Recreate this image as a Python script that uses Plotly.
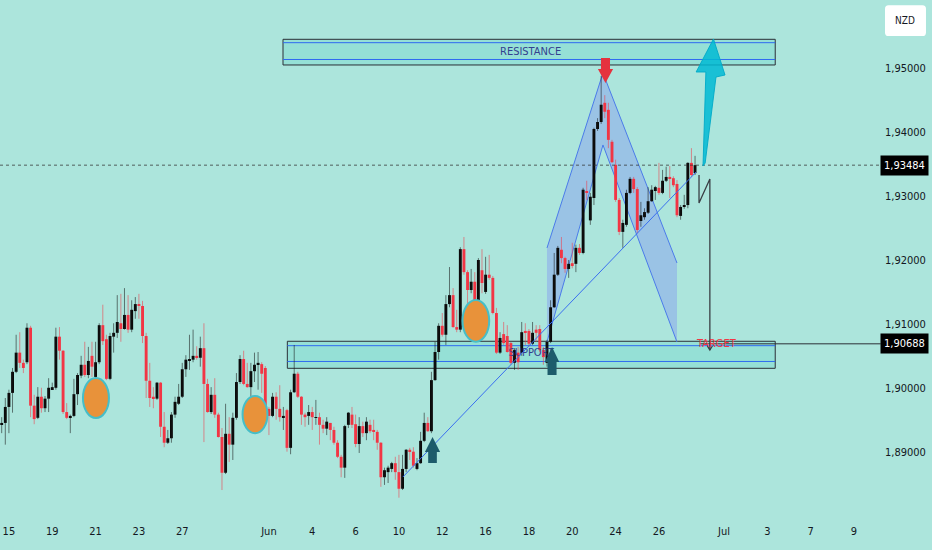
import plotly.graph_objects as go

# ---------------- DATA (NZD pair, 4H candles) ----------------
opens = [
    1.8942, 1.8945, 1.8970, 1.8992, 1.9025, 1.9055, 1.9039, 1.9040, 1.9094, 1.8972,
    1.8953, 1.8986, 1.8968, 1.8983, 1.8998, 1.9000, 1.9080, 1.9058, 1.8962, 1.8953,
    1.8956, 1.8990, 1.9019, 1.9036, 1.9020, 1.9050, 1.9017, 1.9040, 1.9098, 1.9076,
    1.9014, 1.9080, 1.9086, 1.9101, 1.9092, 1.9114, 1.9091, 1.9120, 1.9131, 1.9128,
    1.9081, 1.9011, 1.8986, 1.8983, 1.9008, 1.8939, 1.8914, 1.8921, 1.8958, 1.8975,
    1.8986, 1.9029, 1.9042, 1.9044, 1.9050, 1.9047, 1.9062, 1.9006, 1.8962, 1.8989,
    1.8958, 1.8923, 1.8867, 1.8928, 1.8911, 1.8953, 1.9009, 1.9045, 1.9006, 1.9001,
    1.9026, 1.9036, 1.9037, 1.9031, 1.8967, 1.8956, 1.8986, 1.8967, 1.8954, 1.8965,
    1.8906, 1.8993, 1.9022, 1.8986, 1.8958, 1.8956, 1.8962, 1.8953, 1.8954, 1.8942,
    1.8936, 1.8945, 1.8934, 1.8914, 1.8892, 1.8875, 1.8942, 1.8958, 1.8943, 1.8912,
    1.8940, 1.8929, 1.8942, 1.8934, 1.8931, 1.8914, 1.8860, 1.8868, 1.8873, 1.8882,
    1.8868, 1.8842, 1.8873, 1.8903, 1.8900, 1.8873, 1.8882, 1.8917, 1.8945, 1.8932,
    1.9012, 1.9056, 1.9097, 1.9083, 1.9131, 1.9145, 1.9095, 1.9091, 1.9217, 1.9181,
    1.9153, 1.9166, 1.9134, 1.9184, 1.9150, 1.9177, 1.9172, 1.9117, 1.9055, 1.9084,
    1.9081, 1.9070, 1.9039, 1.9055, 1.9055, 1.9089, 1.9089, 1.9069, 1.9091, 1.9092,
    1.9059, 1.9039, 1.9072, 1.9126, 1.9177, 1.9216, 1.9203, 1.9186, 1.9195, 1.9194,
    1.9219, 1.9211, 1.9308, 1.9262, 1.9297, 1.9405, 1.9416, 1.9446, 1.9435, 1.9385,
    1.9349, 1.9294, 1.9244, 1.9255, 1.9305, 1.9327, 1.9311, 1.9261, 1.9267, 1.9274,
    1.9292, 1.9308, 1.9313, 1.9305, 1.9324, 1.9330, 1.9328, 1.9319, 1.9269, 1.9283,
    1.9286, 1.9352, 1.9336]
highs = [
    1.8954, 1.8984, 1.8997, 1.9031, 1.9083, 1.9087, 1.9044, 1.9101, 1.9097, 1.8989,
    1.9001, 1.9000, 1.8987, 1.9015, 1.9008, 1.9094, 1.9095, 1.9059, 1.8976, 1.8958,
    1.9014, 1.9023, 1.9050, 1.9072, 1.9064, 1.9072, 1.9072, 1.9101, 1.9130, 1.9083,
    1.9086, 1.9101, 1.9145, 1.9147, 1.9156, 1.9145, 1.9137, 1.9142, 1.9147, 1.9136,
    1.9086, 1.9039, 1.9001, 1.9009, 1.9009, 1.8962, 1.8934, 1.8962, 1.8986, 1.9006,
    1.9039, 1.9051, 1.9083, 1.9091, 1.9065, 1.9080, 1.9101, 1.9014, 1.9001, 1.9015,
    1.8961, 1.8937, 1.8975, 1.8954, 1.8961, 1.9023, 1.9051, 1.9058, 1.9039, 1.9039,
    1.9055, 1.9056, 1.9040, 1.9034, 1.8970, 1.8992, 1.8993, 1.9004, 1.8970, 1.8967,
    1.8997, 1.9067, 1.9025, 1.8987, 1.8961, 1.8973, 1.8970, 1.8981, 1.8961, 1.8950,
    1.8954, 1.8945, 1.8939, 1.8918, 1.8895, 1.8942, 1.8962, 1.8970, 1.8958, 1.8954,
    1.8947, 1.8954, 1.8950, 1.8950, 1.8934, 1.8915, 1.8875, 1.8878, 1.8884, 1.8892,
    1.8895, 1.8895, 1.8904, 1.8906, 1.8907, 1.8890, 1.8931, 1.8961, 1.8954, 1.9025,
    1.9072, 1.9101, 1.9117, 1.9145, 1.9189, 1.9156, 1.9122, 1.9220, 1.9236, 1.9184,
    1.9186, 1.9181, 1.9203, 1.9217, 1.9205, 1.9208, 1.9175, 1.9125, 1.9087, 1.9103,
    1.9098, 1.9072, 1.9062, 1.9064, 1.9103, 1.9101, 1.9092, 1.9103, 1.9098, 1.9098,
    1.9064, 1.9075, 1.9137, 1.9211, 1.9222, 1.9236, 1.9205, 1.9200, 1.9227, 1.9224,
    1.9225, 1.9313, 1.9324, 1.9305, 1.9407, 1.9422, 1.9488, 1.9458, 1.9446, 1.9388,
    1.9357, 1.9297, 1.9263, 1.9310, 1.9330, 1.9330, 1.9314, 1.9291, 1.9281, 1.9314,
    1.9317, 1.9316, 1.9352, 1.9341, 1.9346, 1.9347, 1.9331, 1.9325, 1.9286, 1.9302,
    1.9353, 1.9375, 1.9363]
lows = [
    1.8929, 1.8911, 1.8929, 1.8961, 1.9023, 1.9031, 1.9023, 1.9037, 1.8954, 1.8943,
    1.8951, 1.8961, 1.8962, 1.8962, 1.8997, 1.8997, 1.9044, 1.8959, 1.8951, 1.8929,
    1.8954, 1.8973, 1.9015, 1.9017, 1.9015, 1.9017, 1.9015, 1.9037, 1.9067, 1.9012,
    1.9012, 1.9055, 1.9078, 1.9072, 1.9091, 1.9086, 1.9087, 1.9108, 1.9108, 1.9070,
    1.8984, 1.8970, 1.8968, 1.8981, 1.8923, 1.8907, 1.8912, 1.8914, 1.8953, 1.8973,
    1.8984, 1.9017, 1.9028, 1.9040, 1.9044, 1.9033, 1.8915, 1.8961, 1.8959, 1.8953,
    1.8922, 1.8840, 1.8865, 1.8884, 1.8887, 1.8950, 1.9006, 1.9004, 1.9000, 1.8973,
    1.9009, 1.8997, 1.8992, 1.8965, 1.8926, 1.8954, 1.8950, 1.8947, 1.8934, 1.8900,
    1.8896, 1.8992, 1.8984, 1.8942, 1.8939, 1.8942, 1.8934, 1.8942, 1.8911, 1.8929,
    1.8926, 1.8918, 1.8911, 1.8890, 1.8860, 1.8859, 1.8937, 1.8937, 1.8907, 1.8898,
    1.8923, 1.8918, 1.8929, 1.8918, 1.8903, 1.8845, 1.8848, 1.8851, 1.8868, 1.8856,
    1.8828, 1.8840, 1.8868, 1.8887, 1.8875, 1.8871, 1.8881, 1.8915, 1.8931, 1.8929,
    1.9011, 1.9044, 1.9080, 1.9067, 1.9126, 1.9094, 1.9087, 1.9087, 1.9177, 1.9126,
    1.9148, 1.9095, 1.9131, 1.9148, 1.9147, 1.9169, 1.9115, 1.9053, 1.9053, 1.9067,
    1.9055, 1.9036, 1.9028, 1.9028, 1.9050, 1.9067, 1.9064, 1.9067, 1.9072, 1.9056,
    1.9036, 1.9033, 1.9070, 1.9125, 1.9175, 1.9195, 1.9180, 1.9172, 1.9187, 1.9181,
    1.9208, 1.9209, 1.9294, 1.9255, 1.9286, 1.9402, 1.9413, 1.9422, 1.9375, 1.9352,
    1.9291, 1.9239, 1.9219, 1.9252, 1.9303, 1.9305, 1.9242, 1.9252, 1.9263, 1.9272,
    1.9291, 1.9294, 1.9302, 1.9303, 1.9322, 1.9297, 1.9314, 1.9267, 1.9263, 1.9280,
    1.9281, 1.9330, 1.9333]
closes = [
    1.8945, 1.8970, 1.8992, 1.9025, 1.9055, 1.9039, 1.9031, 1.9094, 1.8972, 1.8951,
    1.8986, 1.8968, 1.8983, 1.9000, 1.9001, 1.9080, 1.9058, 1.8962, 1.8953, 1.8956,
    1.8990, 1.9020, 1.9036, 1.9020, 1.9042, 1.9033, 1.9040, 1.9098, 1.9073, 1.9014,
    1.9081, 1.9086, 1.9103, 1.9092, 1.9114, 1.9091, 1.9122, 1.9131, 1.9128, 1.9081,
    1.9011, 1.8984, 1.8983, 1.9008, 1.8939, 1.8914, 1.8921, 1.8958, 1.8978, 1.8986,
    1.9029, 1.9044, 1.9044, 1.9050, 1.9047, 1.9062, 1.9006, 1.8962, 1.8989, 1.8958,
    1.8923, 1.8867, 1.8928, 1.8911, 1.8953, 1.9009, 1.9045, 1.9006, 1.9001, 1.9026,
    1.9036, 1.9039, 1.9022, 1.8967, 1.8956, 1.8986, 1.8967, 1.8954, 1.8956, 1.8906,
    1.8993, 1.9022, 1.8986, 1.8958, 1.8954, 1.8962, 1.8954, 1.8954, 1.8942, 1.8936,
    1.8947, 1.8934, 1.8914, 1.8892, 1.8875, 1.8940, 1.8961, 1.8942, 1.8912, 1.8940,
    1.8929, 1.8947, 1.8932, 1.8931, 1.8914, 1.8860, 1.8871, 1.8875, 1.8882, 1.8868,
    1.8842, 1.8873, 1.8903, 1.8900, 1.8878, 1.8882, 1.8917, 1.8945, 1.8932, 1.9012,
    1.9056, 1.9097, 1.9083, 1.9131, 1.9145, 1.9095, 1.9091, 1.9217, 1.9181, 1.9153,
    1.9166, 1.9117, 1.9200, 1.9164, 1.9177, 1.9172, 1.9117, 1.9055, 1.9078, 1.9070,
    1.9056, 1.9039, 1.9059, 1.9040, 1.9087, 1.9086, 1.9069, 1.9086, 1.9086, 1.9059,
    1.9048, 1.9072, 1.9126, 1.9177, 1.9219, 1.9203, 1.9186, 1.9194, 1.9192, 1.9219,
    1.9211, 1.9310, 1.9305, 1.9299, 1.9405, 1.9416, 1.9443, 1.9432, 1.9388, 1.9353,
    1.9294, 1.9244, 1.9258, 1.9305, 1.9327, 1.9311, 1.9247, 1.9270, 1.9275, 1.9292,
    1.9310, 1.9314, 1.9305, 1.9324, 1.9330, 1.9327, 1.9317, 1.9270, 1.9283, 1.9286,
    1.9352, 1.9333, 1.93484]

# time axis: candle index where each labelled day starts (6 x 4H candles per day)
day_tick_idx = [2, 14, 26, 38, 50, 74, 86, 98, 110, 122, 134, 146, 158, 170, 182, 200, 212, 224, 236]
day_tick_text = ["15", "19", "21", "23", "27", "Jun", "4", "6", "10", "12", "16", "18", "20",
                 "24", "26", "Jul", "3", "7", "9"]
price_ticks = [1.89, 1.90, 1.91, 1.92, 1.93, 1.94, 1.95]

last_price = 1.93484
target_price = 1.90688
resistance_zone = (1.95052, 1.95454)
resistance_inner = (1.95138, 1.95401)
support_zone = (1.90305, 1.90728)
support_inner = (1.90412, 1.90659)

# ---------------- STYLE ----------------
BG = "#ACE5DC"
UP = "#0A0A0A"
DOWN = "#F23645"
FONT = "Liberation Sans Narrow, Arial Narrow, DejaVu Sans Condensed, Roboto, sans-serif"
X_RANGE = [-0.47, 241.0]
Y_RANGE = [1.88009, 1.96069]

n = len(closes)
idx = list(range(n))

fig = go.Figure()

# SUPPORT label (drawn under candles)
fig.add_trace(go.Scatter(x=[146.6], y=[1.90545], mode="text", text=["SUPPORT"],
                         textfont=dict(family=FONT, size=11, color="#33408F"),
                         hoverinfo="skip", showlegend=False))

# wicks
for up_flag, col in [(True, "rgba(20,20,20,0.55)"), (False, "rgba(242,54,69,0.55)")]:
    wx, wy = [], []
    for i in idx:
        if (closes[i] >= opens[i]) == up_flag:
            wx += [i, i, None]
            wy += [lows[i], highs[i], None]
    fig.add_trace(go.Scatter(x=wx, y=wy, mode="lines", line=dict(color=col, width=1),
                             hoverinfo="skip", showlegend=False))

# bodies
base = [min(o, c) for o, c in zip(opens, closes)]
height = [max(abs(c - o), 0.00006) for o, c in zip(opens, closes)]
colors = [UP if c >= o else DOWN for o, c in zip(opens, closes)]
fig.add_trace(go.Bar(x=idx, y=height, base=base, width=0.8,
                     marker=dict(color=colors, line=dict(width=0)),
                     hoverinfo="skip", showlegend=False))

shapes = []


def zone(x0, x1, yz, yl):
    shapes.append(dict(type="rect", xref="x", yref="y", x0=x0, x1=x1, y0=yz[0], y1=yz[1],
                       fillcolor="rgba(0,190,180,0.13)", line=dict(color="#2B2F36", width=1),
                       layer="below"))
    for yy in yl:
        shapes.append(dict(type="line", xref="x", yref="y", x0=x0, x1=x1, y0=yy, y1=yy,
                           line=dict(color="#2F6BF0", width=1), layer="below"))


zone(77.9, 214.2, resistance_zone, resistance_inner)
zone(79.1, 214.2, support_zone, support_inner)

# shaded "Λ" pattern
pat = [(151.0, 1.92188), (166.5, 1.94927), (187.0, 1.91953), (187.0, 1.90717),
       (166.5, 1.93800), (151.0, 1.90717)]
path = "M " + " L ".join(f"{a},{b}" for a, b in pat) + " Z"
shapes.append(dict(type="path", xref="x", yref="y", path=path,
                   fillcolor="rgba(128,148,240,0.42)", line=dict(width=0), layer="below"))
for (a, b), (c, d) in [(pat[0], pat[1]), (pat[1], pat[2]), (pat[5], pat[4]), (pat[4], pat[3])]:
    shapes.append(dict(type="line", xref="x", yref="y", x0=a, y0=b, x1=c, y1=d,
                       line=dict(color="#4B7BEA", width=1), layer="below"))

# trend line
shapes.append(dict(type="line", xref="x", yref="y", x0=111.1, y0=1.88604, x1=192.3, y1=1.93377,
                   line=dict(color="#3A6FF0", width=1), layer="above"))

# last price dotted line
shapes.append(dict(type="line", xref="paper", yref="y", x0=0, x1=1.01, y0=last_price, y1=last_price,
                   line=dict(color="rgba(50,50,50,0.75)", width=1, dash="dot"), layer="above"))

# target price line
tx0 = (193.4 - X_RANGE[0]) / (X_RANGE[1] - X_RANGE[0])
shapes.append(dict(type="line", xref="paper", yref="y", x0=tx0, x1=1.01, y0=target_price, y1=target_price,
                   line=dict(color="#2B2F36", width=1), layer="above"))

# orange ellipses
for x0, x1, y0, y1 in [(22.5, 29.7, 1.89527, 1.90153), (66.7, 73.6, 1.89288, 1.89872),
                       (127.6, 135.0, 1.90722, 1.91374)]:
    shapes.append(dict(type="circle", xref="x", yref="y", x0=x0, x1=x1, y0=y0, y1=y1,
                       fillcolor="#E8923A", line=dict(color="#46BEC8", width=2), layer="above"))

# red down arrow at the peak
cx = 167.2
red_arrow = [(cx - 1.25, 1.95161), (cx + 1.25, 1.95161), (cx + 1.25, 1.94989), (cx + 2.1, 1.94989),
             (cx, 1.94770), (cx - 2.1, 1.94989), (cx - 1.25, 1.94989)]
shapes.append(dict(type="path", xref="x", yref="y",
                   path="M " + " L ".join(f"{a},{b}" for a, b in red_arrow) + " Z",
                   fillcolor="#E5323E", line=dict(width=0), layer="above"))


# dark up arrows
def up_arrow(cx, tip, base_y, bottom, hw=2.1, sw=1.2):
    pts = [(cx, tip), (cx + hw, base_y), (cx + sw, base_y), (cx + sw, bottom),
           (cx - sw, bottom), (cx - sw, base_y), (cx - hw, base_y)]
    shapes.append(dict(type="path", xref="x", yref="y",
                       path="M " + " L ".join(f"{a},{b}" for a, b in pts) + " Z",
                       fillcolor="#1D5B6B", line=dict(width=0), layer="above"))


up_arrow(119.3, 1.89230, 1.88995, 1.88823)
up_arrow(152.4, 1.90639, 1.90404, 1.90200, hw=2.0, sw=1.25)

# cyan projection arrow
cyan = [(194.2, 1.93471), (195.0, 1.94942), (192.3, 1.94942), (197.1, 1.95459),
        (200.3, 1.94895), (197.8, 1.94864), (194.8, 1.93518)]
shapes.append(dict(type="path", xref="x", yref="y",
                   path="M " + " L ".join(f"{a},{b}" for a, b in cyan) + " Z",
                   fillcolor="rgba(0,186,212,0.85)", line=dict(color="rgba(0,170,200,0.9)", width=1),
                   layer="above"))

# zigzag projection to target
zig = [(193.1, 1.93330), (193.1, 1.92892), (196.1, 1.93268), (196.1, 1.90592)]
shapes.append(dict(type="path", xref="x", yref="y",
                   path="M " + " L ".join(f"{a},{b}" for a, b in zig),
                   line=dict(color="#3A3F45", width=1.3), layer="above"))
chev = [(195.4, 1.90654), (196.1, 1.90592), (196.8, 1.90654)]
shapes.append(dict(type="path", xref="x", yref="y",
                   path="M " + " L ".join(f"{a},{b}" for a, b in chev),
                   line=dict(color="#3A3F45", width=1.3), layer="above"))

# NZD box (rounded, in paper coordinates)
bx0, bx1, by0, by1 = 1.0149, 1.0619, 0.930, 0.990
rx, ry = 0.004, 0.007
nzd_path = (f"M {bx0+rx},{by0} L {bx1-rx},{by0} Q {bx1},{by0} {bx1},{by0+ry} "
            f"L {bx1},{by1-ry} Q {bx1},{by1} {bx1-rx},{by1} L {bx0+rx},{by1} "
            f"Q {bx0},{by1} {bx0},{by1-ry} L {bx0},{by0+ry} Q {bx0},{by0} {bx0+rx},{by0} Z")
shapes.append(dict(type="path", xref="paper", yref="paper", path=nzd_path,
                   fillcolor="white", line=dict(width=0), layer="above"))

fmt = lambda v: f"{v:.5f}".replace(".", ",")
annotations = [
    dict(x=146.3, y=1.95263, xref="x", yref="y", text="RESISTANCE", showarrow=False,
         xanchor="center", yanchor="middle",
         font=dict(family=FONT, size=11, color="#33408F")),
    dict(x=197.8, y=1.90686, xref="x", yref="y", text="TARGET", showarrow=False,
         xanchor="center", yanchor="middle",
         font=dict(family=FONT, size=11, color="#F23645")),
    dict(x=1, xref="paper", xanchor="left", xshift=8, y=last_price, yref="y", yanchor="middle",
         text=fmt(last_price), showarrow=False, bgcolor="#000000", borderpad=3,
         font=dict(family=FONT, size=11, color="white")),
    dict(x=1, xref="paper", xanchor="left", xshift=8, y=target_price, yref="y", yanchor="middle",
         text=fmt(target_price), showarrow=False, bgcolor="#000000", borderpad=3,
         font=dict(family=FONT, size=11, color="white")),
    dict(x=(bx0 + bx1) / 2, y=(by0 + by1) / 2, xref="paper", yref="paper", text="NZD",
         showarrow=False, xanchor="center", yanchor="middle",
         font=dict(family=FONT, size=10, color="#131722")),
]

fig.update_layout(
    width=932, height=550,
    margin=dict(l=0, r=60, t=0, b=35),
    paper_bgcolor=BG, plot_bgcolor=BG,
    separators=", ",
    showlegend=False,
    shapes=shapes,
    annotations=annotations,
    font=dict(family=FONT, size=11, color="#131722"),
    xaxis=dict(range=X_RANGE, showgrid=False, zeroline=False, showline=False,
               tickmode="array", tickvals=day_tick_idx, ticktext=day_tick_text,
               ticks="", ticklabelstandoff=8, tickfont=dict(family=FONT, size=11, color="#131722")),
    yaxis=dict(range=Y_RANGE, side="right", showgrid=False, zeroline=False, showline=False,
               tickmode="array", tickvals=price_ticks, tickformat=".5f", ticks="",
               ticklabelstandoff=12, tickfont=dict(family=FONT, size=11, color="#131722")),
)

fig.write_html("out.html", config={"displayModeBar": False},
               post_script="document.body.style.margin='0';document.body.style.padding='0';")
